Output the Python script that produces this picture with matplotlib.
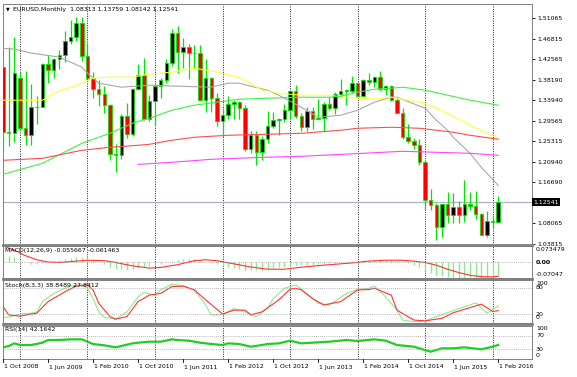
import numpy as np
import pandas as pd
import matplotlib
matplotlib.use("Agg")
import matplotlib.pyplot as plt
from matplotlib.lines import Line2D

# EURUSD monthly bars, Oct 2008 .. Feb 2016
months = pd.date_range("2008-10-01", "2016-02-01", freq="MS")

opens = [1.4090, 1.2732, 1.2698, 1.3850, 1.2797, 1.2668, 1.3248, 1.3241, 1.4150, 1.4030, 1.4258, 1.4338,
         1.4638, 1.4720, 1.5000, 1.4321, 1.3862, 1.3625, 1.3510, 1.3295, 1.2270, 1.2237, 1.3050, 1.2684,
         1.3632, 1.3927, 1.2990, 1.3366, 1.3697, 1.3804, 1.4164, 1.4807, 1.4391, 1.4500, 1.4390, 1.4370,
         1.3390, 1.3850, 1.3445, 1.2962, 1.3080, 1.3321, 1.3342, 1.3237, 1.2368, 1.2665, 1.2304, 1.2577,
         1.2859, 1.2984, 1.2988, 1.3193, 1.3580, 1.3060, 1.2818, 1.3166, 1.3002, 1.3008, 1.3303, 1.3222,
         1.3525, 1.3583, 1.3590, 1.3745, 1.3486, 1.3805, 1.3770, 1.3869, 1.3635, 1.3690, 1.3389, 1.3130,
         1.2628, 1.2527, 1.2453, 1.2098, 1.1290, 1.1195, 1.0731, 1.1214, 1.0986, 1.1146, 1.0985, 1.1211,
         1.1177, 1.1005, 1.0563, 1.0862, 1.08313]
highs = [1.4143, 1.4500, 1.4720, 1.3980, 1.4000, 1.3739, 1.3471, 1.4166, 1.4336, 1.4273, 1.4445, 1.4844,
         1.5063, 1.5144, 1.5137, 1.4580, 1.3990, 1.3813, 1.3694, 1.3316, 1.2469, 1.3105, 1.3333, 1.3652,
         1.4157, 1.4282, 1.3500, 1.3750, 1.3862, 1.4249, 1.4882, 1.4940, 1.4697, 1.4578, 1.4548, 1.4540,
         1.4247, 1.3875, 1.3549, 1.3234, 1.3487, 1.3386, 1.3383, 1.3283, 1.2748, 1.2748, 1.2638, 1.3172,
         1.3140, 1.3010, 1.3308, 1.3586, 1.3711, 1.3114, 1.3243, 1.3243, 1.3416, 1.3345, 1.3452, 1.3568,
         1.3832, 1.3621, 1.3894, 1.3775, 1.3825, 1.3967, 1.3906, 1.3993, 1.3700, 1.3700, 1.3444, 1.3222,
         1.2886, 1.2601, 1.2570, 1.2110, 1.1534, 1.1244, 1.1217, 1.1466, 1.1436, 1.1278, 1.1714, 1.1459,
         1.1495, 1.1033, 1.1059, 1.0986, 1.13759]
lows = [1.2330, 1.2423, 1.2523, 1.2762, 1.2459, 1.2457, 1.2885, 1.3240, 1.3748, 1.3853, 1.4046, 1.4200,
        1.4578, 1.4630, 1.4218, 1.3855, 1.3436, 1.3268, 1.3116, 1.2143, 1.1876, 1.2151, 1.2589, 1.2643,
        1.3600, 1.2969, 1.2960, 1.2867, 1.3443, 1.3749, 1.4110, 1.3969, 1.4070, 1.3836, 1.4050, 1.3363,
        1.3145, 1.3146, 1.2858, 1.2624, 1.3000, 1.3004, 1.3000, 1.2333, 1.2287, 1.2042, 1.2134, 1.2500,
        1.2802, 1.2662, 1.2926, 1.2998, 1.3020, 1.2745, 1.2748, 1.2796, 1.2994, 1.2754, 1.3186, 1.3104,
        1.3482, 1.3294, 1.3547, 1.3477, 1.3477, 1.3704, 1.3673, 1.3588, 1.3503, 1.3366, 1.3130, 1.2571,
        1.2500, 1.2358, 1.2034, 1.1097, 1.1098, 1.0457, 1.0521, 1.0818, 1.0819, 1.0808, 1.0847, 1.1087,
        1.0897, 1.0558, 1.0522, 1.0710, 1.08142]
closes = [1.2732, 1.2698, 1.3964, 1.2797, 1.2668, 1.3248, 1.3241, 1.4150, 1.4030, 1.4258, 1.4338, 1.4638,
          1.4720, 1.5000, 1.4321, 1.3862, 1.3625, 1.3510, 1.3295, 1.2270, 1.2237, 1.3050, 1.2684, 1.3632,
          1.3927, 1.2990, 1.3366, 1.3697, 1.3804, 1.4164, 1.4807, 1.4391, 1.4500, 1.4390, 1.4370, 1.3390,
          1.3850, 1.3445, 1.2962, 1.3080, 1.3321, 1.3342, 1.3237, 1.2368, 1.2665, 1.2304, 1.2577, 1.2859,
          1.2984, 1.2988, 1.3193, 1.3580, 1.3060, 1.2818, 1.3166, 1.3002, 1.3008, 1.3303, 1.3222, 1.3525,
          1.3583, 1.3590, 1.3745, 1.3486, 1.3805, 1.3770, 1.3869, 1.3635, 1.3690, 1.3389, 1.3130, 1.2628,
          1.2527, 1.2453, 1.2098, 1.1290, 1.1195, 1.0731, 1.1214, 1.0986, 1.1146, 1.0985, 1.1211, 1.1177,
          1.1005, 1.0563, 1.0862, 1.0831, 1.12541]

# moving averages: (bar index, price)
ma_gray_idx = [0, 2, 5, 10, 14, 15, 17, 21, 26, 31, 37, 40, 42, 44, 47, 49, 53, 56, 60, 63, 66, 69, 70, 75, 77, 79, 80, 83, 85, 88]
ma_gray = [1.4476, 1.4462, 1.4377, 1.4294, 1.4083, 1.3958, 1.3747, 1.3663, 1.3705, 1.3684, 1.3663, 1.3747, 1.3747, 1.3684,
           1.3600, 1.3495, 1.3243, 1.3032, 1.3075, 1.3180, 1.3348, 1.3453, 1.3453, 1.3222, 1.2970, 1.2760, 1.2613, 1.2277,
           1.1983, 1.1604]
ma_yellow_idx = [0, 7, 9, 14, 16, 19, 23, 26, 30, 34, 38, 42, 46, 49, 53, 58, 61, 66, 69, 71, 75, 79, 83, 88]
ma_yellow = [1.3390, 1.3390, 1.3537, 1.3747, 1.3852, 1.3873, 1.3873, 1.3936, 1.3978, 1.4062, 1.3978, 1.3873, 1.3600,
             1.3537, 1.3495, 1.3495, 1.3453, 1.3411, 1.3453, 1.3411, 1.3327, 1.3117, 1.2865, 1.2592]
ma_green_idx = [0, 7, 14, 19, 23, 26, 30, 34, 38, 42, 47, 53, 58, 60, 63, 66, 69, 71, 75, 79, 83, 88]
ma_green = [1.1836, 1.2067, 1.2487, 1.2697, 1.2907, 1.3012, 1.3180, 1.3285, 1.3348, 1.3411, 1.3432, 1.3453, 1.3453,
            1.3474, 1.3558, 1.3621, 1.3642, 1.3663, 1.3600, 1.3495, 1.3390, 1.3285]
ma_red_idx = [0, 7, 14, 19, 24, 26, 30, 34, 40, 47, 53, 60, 63, 69, 74, 80, 83, 88]
ma_red = [1.2130, 1.2172, 1.2340, 1.2403, 1.2445, 1.2466, 1.2550, 1.2613, 1.2655, 1.2676, 1.2697, 1.2760, 1.2802,
          1.2823, 1.2802, 1.2718, 1.2655, 1.2571]
ma_magenta_idx = [24, 30, 37, 46, 53, 64, 71, 77, 83, 88]
ma_magenta = [1.2045, 1.2088, 1.2151, 1.2193, 1.2214, 1.2277, 1.2319, 1.2298, 1.2277, 1.2235]

# MACD(12,26,9) histogram, one value per bar, and signal line
macd_main = [0.045, 0.030, 0.025, 0.012, 0.000, -0.006, -0.008, -0.004, 0.002, 0.006, 0.010, 0.015,
             0.020, 0.026, 0.024, 0.018, 0.010, 0.002, -0.006, -0.018, -0.028, -0.030, -0.034, -0.030,
             -0.022, -0.020, -0.016, -0.012, -0.006, 0.000, 0.006, 0.012, 0.014, 0.016, 0.015, 0.012,
             0.002, -0.004, -0.008, -0.016, -0.020, -0.025, -0.030, -0.034, -0.034, -0.035, -0.032, -0.028,
             -0.025, -0.022, -0.020, -0.015, -0.012, -0.012, -0.012, -0.010, -0.008, -0.006, -0.004, -0.002,
             0.000, 0.003, 0.006, 0.008, 0.010, 0.012, 0.013, 0.013, 0.012, 0.010, 0.006, 0.002,
             -0.004, -0.010, -0.020, -0.033, -0.045, -0.055, -0.061, -0.066, -0.069, -0.07047, -0.070, -0.069,
             -0.068, -0.068, -0.067, -0.064, -0.055667]
macd_sig_idx = [0, 2, 4, 6, 8, 10, 12, 15, 18, 20, 23, 26, 28, 31, 34, 36, 38, 41, 44, 47, 50, 53, 56, 59,
                62, 65, 68, 71, 73, 75, 77, 79, 81, 83, 85, 87, 88]
macd_sig = [0.0735, 0.055, 0.030, 0.012, 0.002, 0.000, 0.004, 0.010, 0.008, 0.000, -0.015, -0.025, -0.022,
            -0.010, 0.008, 0.012, 0.008, -0.006, -0.020, -0.030, -0.030, -0.021, -0.014, -0.008, -0.002,
            0.006, 0.010, 0.010, 0.006, 0.000, -0.012, -0.030, -0.045, -0.057, -0.063, -0.064, -0.061463]

# Stochastic(8,3,3)
stoch_k_idx = [0, 1, 3, 5, 6, 7, 9, 11, 12, 14, 15, 16, 17, 18, 20, 22, 24, 25, 27, 28, 30, 32, 34, 36, 37, 39,
               41, 43, 45, 47, 48, 50, 51, 52, 54, 56, 58, 61, 63, 65, 66, 68, 70, 71, 73, 75, 77, 80, 82, 84, 86, 88]
stoch_k = [12, 13, 20, 22, 25, 49, 68, 80, 85, 88, 80, 56, 25, 12, 8, 25, 60, 70, 64, 76, 89, 86, 76, 41, 18, 18,
           33, 25, 14, 33, 56, 80, 84, 88, 68, 45, 41, 68, 77, 80, 85, 60, 29, 6, 2, 4, 14, 28, 37, 46, 22, 38.8489]
stoch_d_idx = [0, 1, 3, 5, 6, 8, 11, 13, 15, 16, 17, 19, 20, 22, 24, 26, 28, 30, 32, 34, 36, 39, 41, 43, 44, 46,
               49, 51, 52, 53, 55, 57, 60, 63, 65, 66, 69, 70, 73, 75, 78, 80, 82, 85, 87, 88]
stoch_d = [37, 18, 15, 20, 22, 49, 72, 85, 88, 76, 45, 14, 8, 14, 49, 64, 68, 84, 85, 76, 53, 20, 29, 29, 18, 25,
           53, 78, 80, 76, 56, 41, 49, 76, 77, 80, 64, 29, 6, 4, 10, 23, 31, 43, 26, 27.8412]

# RSI(14)
rsi_idx = [0, 1, 2, 3, 5, 7, 8, 10, 12, 14, 15, 16, 18, 20, 21, 23, 24, 26, 28, 30, 31, 33, 35, 37, 39, 40, 42,
           44, 46, 47, 49, 51, 53, 55, 58, 61, 63, 66, 68, 70, 73, 75, 76, 78, 80, 82, 85, 87, 88]
rsi = [35, 39, 47, 42, 42, 49, 57, 57, 59, 59, 52, 45, 41, 35, 39, 47, 49, 52, 52, 59, 57, 55, 49, 45, 42, 47, 45,
       37, 42, 45, 47, 55, 47, 49, 52, 57, 54, 59, 55, 42, 37, 27, 22, 32, 32, 35, 29, 37, 42.1642]

time_label_idx = [0, 8, 16, 24, 32, 40, 48, 56, 64, 72, 80, 88]
price_ticks = [1.51065, 1.46815, 1.42565, 1.38190, 1.33940, 1.29565, 1.25315, 1.20940, 1.16690, 1.08065, 1.03815]
last_price = 1.12541

W, H = 577, 377
FS = 4.5
LIME = "#00e600"
GRID = "#808080"
plt.rcParams["font.family"] = ["DejaVu Sans"]

fig = plt.figure(figsize=(W / 100, H / 100), dpi=100)
fig.patch.set_facecolor("white")


def box(top, bottom, left=2.7, right=532.0):
    return [left / W, 1 - bottom / H, (right - left) / W, (bottom - top) / H]


def ftext(x, y, s, size=FS, **kw):
    # place text using pixel coordinates measured from top-left
    return fig.text(x / W, 1 - y / H, s, fontsize=size, va="center", **kw)


ax = fig.add_axes(box(4, 244.5))
ax_macd = fig.add_axes(box(246, 278.3), sharex=ax)
ax_st = fig.add_axes(box(279.7, 322.6), sharex=ax)
ax_rsi = fig.add_axes(box(325.7, 359.0), sharex=ax)
panels = [ax, ax_macd, ax_st, ax_rsi]

idx = np.arange(len(months))
o = np.array(opens)
c = np.array(closes)

# candles
ax.vlines(idx, lows, highs, color=LIME, lw=0.9, zorder=3)
up = c >= o
body_lo = np.minimum(o, c)
body_h = np.maximum(np.abs(c - o), 0.0012)
ax.bar(idx[up], body_h[up], bottom=body_lo[up], width=0.62, color="black",
       edgecolor=LIME, linewidth=0.6, zorder=4)
ax.bar(idx[~up], body_h[~up], bottom=body_lo[~up], width=0.62, color="#ff0000",
       edgecolor=LIME, linewidth=0.6, zorder=4)

# moving averages
ax.plot(ma_gray_idx, ma_gray, color="#a8a8a8", lw=0.8, zorder=5)
ax.plot(ma_yellow_idx, ma_yellow, color="#ffff33", lw=0.8, zorder=5)
ax.plot(ma_green_idx, ma_green, color="#44ee44", lw=0.8, zorder=5)
ax.plot(ma_red_idx, ma_red, color="#ff4c4c", lw=0.8, zorder=5)
ax.plot(ma_magenta_idx, ma_magenta, color="#ff44ff", lw=0.8, zorder=5)

ax.axhline(last_price, color="#aab4c4", lw=0.9, zorder=2)
ax.set_ylim(1.0365, 1.5407)

# MACD
ax_macd.vlines(idx, 0, macd_main, color="#8fe88f", lw=1.0)
ax_macd.plot(macd_sig_idx, macd_sig, color="#ff3333", lw=0.8)
ax_macd.axhline(0, color="#a0a0a0", lw=0.6, ls=(0, (1, 1.5)))
ax_macd.set_ylim(-0.07047, 0.073479)

# Stochastic
ax_st.plot(stoch_k_idx, stoch_k, color="#88ee88", lw=0.8)
ax_st.plot(stoch_d_idx, stoch_d, color="#ff3333", lw=0.8)
for lvl in (20, 80):
    ax_st.axhline(lvl, color="#a0a0a0", lw=0.6, ls=(0, (1, 1.5)))
ax_st.set_ylim(0, 100)

# RSI
ax_rsi.plot(rsi_idx, rsi, color="#22cc22", lw=1.6)
for lvl in (30, 70):
    ax_rsi.axhline(lvl, color="#a0a0a0", lw=0.6, ls=(0, (1, 1.5)))
ax_rsi.set_ylim(0, 100)

# yearly period separators
year_starts = idx[months.month == 1]
for a in panels:
    for xs in year_starts:
        a.axvline(xs, color="black", lw=0.6, ls=(0, (1.2, 1.6)), zorder=1)
    a.set_xlim(-0.07, 94.0)
    a.set_facecolor("white")
    for s in a.spines.values():
        s.set_color(GRID)
        s.set_linewidth(0.7)
    a.tick_params(axis="x", which="both", bottom=False, labelbottom=False)

for a in panels[1:]:
    a.set_yticks([])

# price scale on the right
ax.yaxis.tick_right()
ax.set_yticks(price_ticks)
ax.set_yticklabels([f"{p:.5f}" for p in price_ticks])
ax.tick_params(axis="y", length=2, width=0.6, color="black", pad=1.5, labelsize=FS)
ax.text(1.003, last_price, f"{last_price:.5f}", transform=ax.get_yaxis_transform(),
        fontsize=FS, color="white", va="center", ha="left",
        bbox=dict(facecolor="black", edgecolor="none", pad=0.8), zorder=10, clip_on=False)

# panel separators
for y in (245.0, 278.9, 323.8):
    fig.add_artist(Line2D([2.7 / W, 532 / W], [1 - y / H, 1 - y / H], color=GRID, lw=2.0))

# indicator scales
ftext(536, 249.3, "0.073479")
ftext(536, 262.3, "0.00", fontweight="bold")
ftext(536, 274.0, "-0.07047")
for y, s in ((283.3, "100"), (287.7, "80"), (314.0, "20"), (317.7, "0"),
             (329.0, "100"), (335.5, "70"), (349.5, "30"), (355.7, "0")):
    ftext(536, y, s)

# time scale
for i in time_label_idx:
    xp = 2.7 + (i + 0.07) / 94.07 * (532 - 2.7)
    fig.add_artist(Line2D([xp / W, xp / W], [1 - 359 / H, 1 - 362 / H], color="black", lw=0.6))
    ftext(xp + 0.5, 367, f"1 {months[i].strftime('%b %Y')}", ha="left")

# headers
ftext(6, 9, "\u25bc", size=3.5)
ftext(13, 9, "EURUSD,Monthly  1.08313 1.13759 1.08142 1.12541")
ftext(5, 250.5, "MACD(12,26,9) -0.055667 -0.061463")
ftext(5, 285, "Stoch(8,3,3) 38.8489 27.8412")
ftext(5, 329.5, "RSI(14) 42.1642")

fig.savefig("out.png", dpi=100, facecolor="white")
